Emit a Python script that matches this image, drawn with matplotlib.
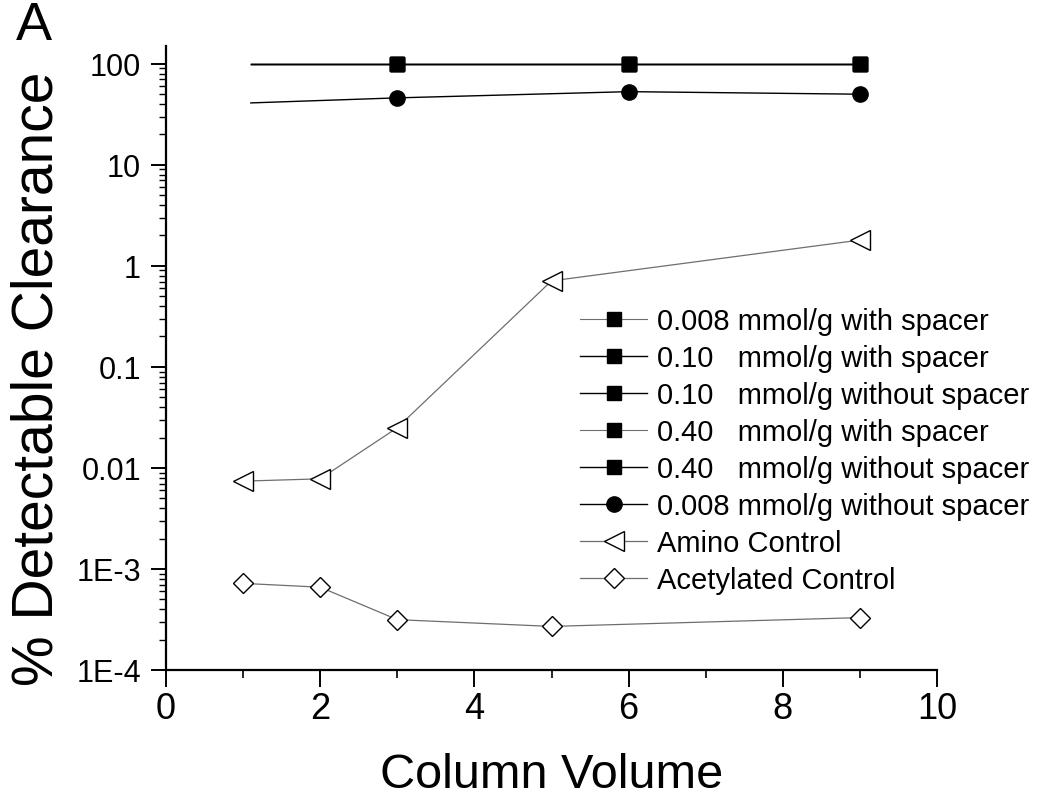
import matplotlib
matplotlib.use("Agg")
import matplotlib.pyplot as plt
from matplotlib.ticker import FixedLocator, LogLocator, NullFormatter, FixedFormatter

plt.rcParams['font.family'] = ['Liberation Sans', 'DejaVu Sans']

# ---- data ----
flat_x = [1.1, 3, 6, 9]
sq_008_with = [100, 100, 100, 100]
sq_010_with = [100, 100, 100, 100]
sq_010_without = [100, 100, 100, 100]
sq_040_with = [100, 100, 100, 100]
sq_040_without = [100, 100, 100, 100]
circ_008_without = [41, 46, 53, 50]

ctrl_x = [1, 2, 3, 5, 9]
amino_control = [0.0074, 0.0078, 0.025, 0.71, 1.8]
acetylated_control = [7.2e-4, 6.6e-4, 3.15e-4, 2.7e-4, 3.3e-4]

labels = [
    "0.008 mmol/g with spacer",
    "0.10   mmol/g with spacer",
    "0.10   mmol/g without spacer",
    "0.40   mmol/g with spacer",
    "0.40   mmol/g without spacer",
    "0.008 mmol/g without spacer",
    "Amino Control",
    "Acetylated Control",
]
y_ticks = [1e-4, 1e-3, 0.01, 0.1, 1, 10, 100]
y_tick_labels = ["1E-4", "1E-3", "0.01", "0.1", "1", "10", "100"]
x_ticks = [0, 2, 4, 6, 8, 10]

fig = plt.figure(figsize=(10.5, 8.04), dpi=100)
ax = fig.add_axes([166/1050, 1-671/804, 771/1050, 624/804])

grey = '#6e6e6e'
sq_series = [sq_008_with, sq_010_with, sq_010_without, sq_040_with, sq_040_without]
sq_colors = [grey, 'black', 'black', grey, 'black']
sq_lw = [0.8, 1.0, 1.0, 0.8, 1.0]
for ys, lab, c, lw in zip(sq_series, labels[:5], sq_colors, sq_lw):
    ax.plot(flat_x, ys, color=c, lw=lw, marker='s', ms=10, mfc='black', mec='black',
            markevery=[1, 2, 3], label=lab)
ax.plot(flat_x, circ_008_without, color='black', lw=1.0, marker='o', ms=11,
        mfc='black', mec='black', markevery=[1, 2, 3], label=labels[5])
ax.plot(ctrl_x, amino_control, color=grey, lw=0.9, marker='<', ms=14,
        mfc='white', mec='black', mew=1.0, label=labels[6])
ax.plot(ctrl_x, acetylated_control, color=grey, lw=0.9, marker='D', ms=10,
        mfc='white', mec='black', mew=1.0, label=labels[7])

ax.set_yscale('log')
ax.set_ylim(1e-4, 150)
ax.set_xlim(0, 10)

ax.spines['top'].set_visible(False)
ax.spines['right'].set_visible(False)
for s in ('left', 'bottom'):
    ax.spines[s].set_linewidth(1.6)

ax.yaxis.set_major_locator(FixedLocator(y_ticks))
ax.yaxis.set_major_formatter(FixedFormatter(y_tick_labels))
ax.yaxis.set_minor_locator(LogLocator(base=10, subs=range(2, 10), numticks=20))
ax.yaxis.set_minor_formatter(NullFormatter())
ax.set_xticks(x_ticks)
ax.set_xticklabels([str(v) for v in x_ticks])
ax.set_xticks([1, 3, 5, 7, 9], minor=True)

ax.tick_params(axis='y', which='major', direction='out', length=11, width=1.4,
               labelsize=22, pad=7)
ax.tick_params(axis='y', which='minor', direction='out', length=5, width=1.0)
ax.tick_params(axis='x', which='major', direction='out', length=12, width=1.4,
               labelsize=26, pad=3)
ax.tick_params(axis='x', which='minor', direction='out', length=6, width=1.2)

ax.set_xlabel("Column Volume", fontsize=35, va='baseline')
ax.xaxis.set_label_coords(0.5, (671-788)/624)
ax.set_ylabel("% Detectable Clearance", fontsize=41, va='center')
ax.yaxis.set_label_coords((38-166)/771, (671-379)/624)

leg = ax.legend(loc='upper left', bbox_to_anchor=((580-166)/771, (671-308)/624),
                frameon=False, fontsize=21, handlelength=2.3, handletextpad=0.34,
                labelspacing=0.31, borderpad=0, borderaxespad=0, numpoints=1)

fig.text(16/1050, 1-1/804, "A", fontsize=39, va='top', ha='left')

fig.savefig("out.png", dpi=100)
